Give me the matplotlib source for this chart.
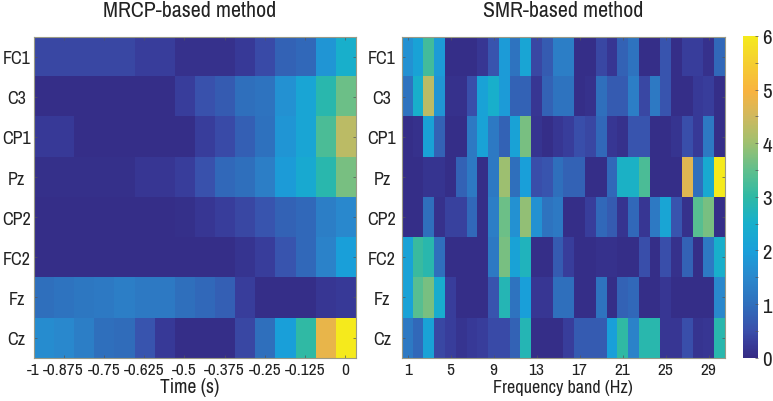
import numpy as np
import matplotlib
matplotlib.use('Agg')
import matplotlib.pyplot as plt
from matplotlib.colors import LinearSegmentedColormap

channels = ['FC1', 'C3', 'CP1', 'Pz', 'CP2', 'FC2', 'Fz', 'Cz']
time_labels = ['-1', '-0.875', '-0.75', '-0.625', '-0.5', '-0.375', '-0.25', '-0.125', '0']
freq_labels = ['1', '5', '9', '13', '17', '21', '25', '29']

mrcp_fc1 = [.4,.4,.4,.4,.4,.3,.3,.1,.1,.1,.25,.45,.8,.9,1.8,2.5]
mrcp_c3  = [.05,.05,.05,.05,.05,.05,.05,.3,.55,.7,1.0,1.1,1.7,2.2,2.9,3.6]
mrcp_cp1 = [.25,.25,.05,.05,.05,.05,.05,.05,.3,.45,.75,1.05,1.8,2.2,3.3,4.3]
mrcp_pz  = [.08,.08,.08,.08,.08,.2,.2,.3,.55,.9,1.0,1.3,1.9,2.3,2.9,3.7]
mrcp_cp2 = [.05,.05,.05,.05,.05,.05,.05,.08,.2,.3,.4,.6,.8,.9,1.3,1.5]
mrcp_fc2 = [.05,.05,.05,.05,.05,.05,.05,.05,.05,.05,.15,.3,.6,.9,1.4,2.0]
mrcp_fz  = [1.0,1.1,1.15,1.2,1.3,1.2,1.2,1.0,.9,.75,.3,.05,.05,.05,.2,.25]
mrcp_cz  = [1.6,1.5,1.3,1.0,.95,.6,.25,.05,.05,.05,.4,1.0,2.0,3.0,4.8,6.0]

smr_fc1 = [1.7,2.1,3.2,1.9,.05,.05,.05,.2,.6,1.9,1.1,2.2,.4,.7,1.3,1.3,.05,.05,.4,.2,.8,1.1,.05,.05,.6,.05,.3,.3,.1,.9]
smr_c3  = [1.1,2.5,4.3,1.8,.1,.1,.5,2.1,2.5,1.9,.8,.8,.2,.8,1.1,1.1,.05,.1,1.0,.7,.7,1.3,.4,1.2,.6,.05,.05,.25,.3,.05]
smr_cp1 = [.05,.1,2.1,.8,.05,.05,1.2,2.1,1.2,.8,2.1,3.7,.15,.05,.2,.3,.5,.4,.9,.2,.1,.6,.6,.05,.05,.15,.5,.25,1.2,.05]
smr_pz  = [.05,.05,.15,.15,.05,.8,1.2,.05,1.2,4.0,1.0,2.0,.5,.6,1.0,.8,.8,.05,.05,.9,2.6,2.6,3.3,.05,.05,.05,4.7,1.0,2.3,6.0]
smr_cp2 = [.05,.05,1.0,.1,.35,.35,.9,.05,1.3,3.6,1.7,3.9,1.7,1.1,1.2,.05,.05,.3,.9,.7,.15,.9,.2,1.2,2.2,.6,.1,3.4,3.7,.05]
smr_fc2 = [2.1,3.1,2.9,1.0,.05,.05,.05,.05,1.2,3.7,2.1,2.7,.05,.05,.7,.3,.05,.05,.1,.1,.05,.05,.5,.05,.5,.1,.8,.05,1.2,2.5]
smr_fz  = [2.1,3.4,3.7,2.4,.3,.05,.05,.05,.6,2.8,1.1,2.0,.2,.2,1.0,1.0,.05,.05,1.1,.05,.8,.9,.05,.05,.2,.05,.05,.05,.05,1.5]
smr_cz  = [1.2,.9,2.1,.4,.3,.15,.25,.3,.45,.45,.8,2.8,.05,.05,.05,.3,.7,.7,.7,2.0,3.0,1.4,2.9,2.9,.2,.2,.5,.15,.2,2.9]

# Muted parula, as printed in the reference
parula = LinearSegmentedColormap.from_list('parula_muted', [
    (0.0, '#352c85'), (0.04, '#383a98'), (0.083, '#3a4fab'), (0.167, '#2f70bd'), (0.25, '#2a88cd'),
    (0.33, '#1a9fda'), (0.42, '#18b0cb'), (0.5, '#2fb9a5'), (0.58, '#5ebf8e'),
    (0.67, '#a0c06f'), (0.75, '#cfb95f'), (0.83, '#f8b33f'), (0.92, '#f5cf30'), (1.0, '#f5ea1c')], N=256)

plt.rcParams['font.family'] = ['Archivo Narrow', 'Roboto Condensed', 'Liberation Sans']
W, H = 773, 402
fig = plt.figure(figsize=(W/100, H/100), dpi=100, facecolor='white')

def box(x0, x1, y0, y1):
    return [x0/W, 1-y1/H, (x1-x0)/W, (y1-y0)/H]

edge = '#9a9a86'
fs = 12.5

def panel(rect, rows, xticks, xlabels, xc, title, xlabel, xlabel_size, ypad):
    ax = fig.add_axes(rect)
    m = np.array(rows)
    im = ax.imshow(m, cmap=parula, vmin=0, vmax=6, aspect='auto', interpolation='nearest',
                   extent=(0.5, m.shape[1]+0.5, m.shape[0]+0.5, 0.5))
    ax.set_xticks(xticks)
    ax.set_xticklabels(xlabels, fontsize=fs, color='#222222')
    ax.set_yticks(np.arange(1, len(channels)+1))
    ax.set_yticklabels(channels, fontsize=13, color='#222222')
    ax.tick_params(axis='both', direction='in', length=2, width=0.5, color='#55555a',
                   top=True, right=True, pad=3)
    ax.tick_params(axis='y', pad=ypad)
    for t in ax.get_yticklabels():
        t.set_ha('center')
    for s in ax.spines.values():
        s.set_color(edge)
        s.set_linewidth(0.8)
    fig.text(xc/W, 1-11/H, title, fontsize=15.8, ha='center', va='center', color='#222222')
    fig.text(xc/W, 1-388/H, xlabel, fontsize=xlabel_size, ha='center', va='center', color='#222222')
    return im

mrcp_rows = [mrcp_fc1, mrcp_c3, mrcp_cp1, mrcp_pz, mrcp_cp2, mrcp_fc2, mrcp_fz, mrcp_cz]
smr_rows = [smr_fc1, smr_c3, smr_cp1, smr_pz, smr_cp2, smr_fc2, smr_fz, smr_cz]

panel(box(33.5, 355.5, 37.5, 358.7), mrcp_rows, [0.5]+list(range(2, 17, 2)), time_labels,
      190, 'MRCP-based method', 'Time (s)', 14, 12.2)
im = panel(box(402.3, 724.7, 37.5, 358.7), smr_rows, list(range(1, 30, 4)), freq_labels,
      563, 'SMR-based method', 'Frequency band (Hz)', 13, 14.6)

cax = fig.add_axes(box(743, 758, 37, 358.7))
cb = fig.colorbar(im, cax=cax)
cb.set_ticks(range(0, 7))
cb.set_ticks(np.arange(0.5, 6, 1), minor=True)
cb.ax.tick_params(which='major', direction='in', length=2, width=0.5, labelsize=15, pad=3,
                  color='#55555a', labelcolor='#222222')
cb.ax.tick_params(which='minor', direction='in', length=2, width=0.5, color='#55555a')
cb.outline.set_visible(False)

fig.savefig('out.png', dpi=100)
